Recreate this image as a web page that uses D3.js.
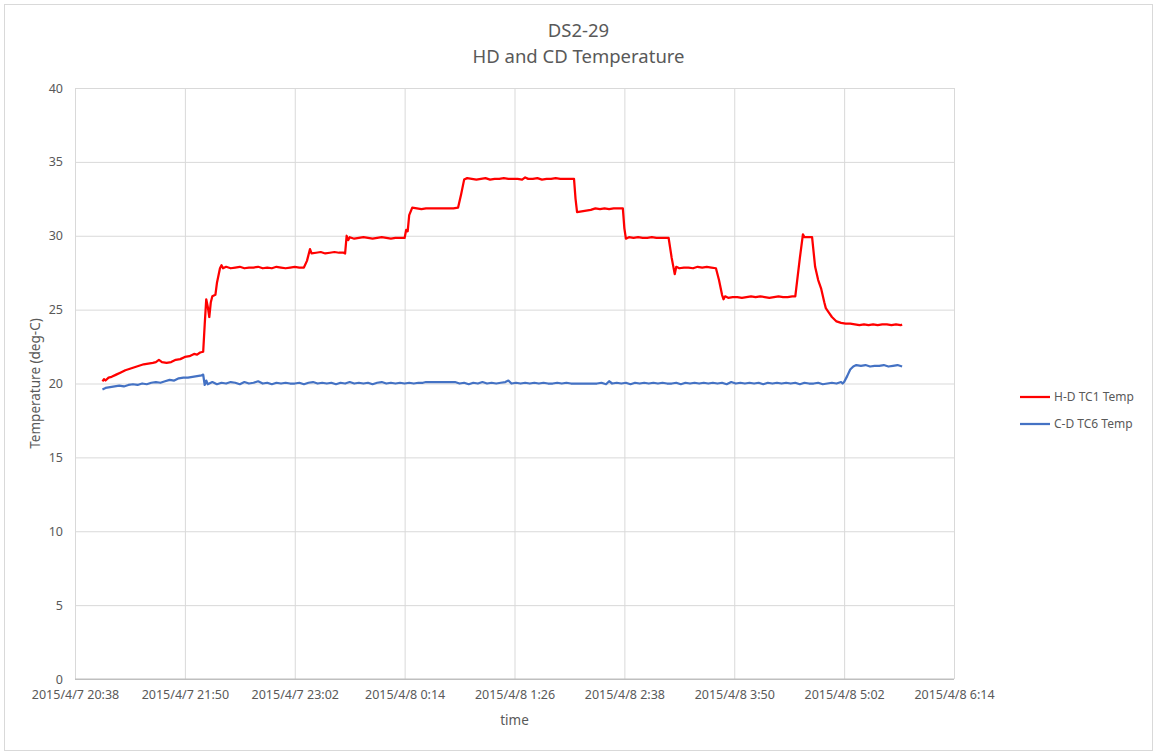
<!DOCTYPE html>
<html>
<head>
<meta charset="utf-8">
<script src="https://cdn.jsdelivr.net/npm/d3@7"></script>
<style>
  body { margin: 0; background: #fff; }
  text { font-family: "Noto Sans", "Liberation Sans", sans-serif; fill: #595959; }
</style>
</head>
<body>
<div id="chart"></div>
<script>
// H-D TC1 readings, [clock time, deg-C]; times >= 20:00 are on 4/7, the rest on 4/8
var hdTemp = [
  ["20:56", 20.15], ["20:57", 20.3], ["20:58", 20.2], ["21:00", 20.4], ["21:02", 20.45],
  ["21:05", 20.6], ["21:08", 20.75], ["21:11", 20.9], ["21:14", 21.0], ["21:17", 21.1],
  ["21:20", 21.2], ["21:23", 21.3], ["21:26", 21.35], ["21:29", 21.4], ["21:31", 21.45],
  ["21:33", 21.6], ["21:35", 21.45], ["21:38", 21.4], ["21:41", 21.45], ["21:44", 21.6],
  ["21:47", 21.65], ["21:50", 21.8], ["21:53", 21.85], ["21:56", 22.0], ["21:58", 21.95],
  ["22:00", 22.1], ["22:02", 22.15], ["22:03", 24.0], ["22:04", 25.7], ["22:05", 25.2],
  ["22:06", 24.5], ["22:07", 25.5], ["22:08", 25.9], ["22:10", 26.0], ["22:11", 26.8],
  ["22:13", 27.8], ["22:14", 28.0], ["22:15", 27.8],
  ["22:17", 27.9], ["22:20", 27.8], ["22:23", 27.85], ["22:26", 27.9], ["22:29", 27.8],
  ["22:32", 27.85], ["22:35", 27.85], ["22:38", 27.9], ["22:41", 27.8], ["22:44", 27.85],
  ["22:47", 27.8], ["22:50", 27.9], ["22:53", 27.85], ["22:56", 27.8], ["22:59", 27.85],
  ["23:02", 27.9], ["23:05", 27.85], ["23:08", 27.85],
  ["23:10", 28.3], ["23:12", 29.1], ["23:13", 28.8], ["23:16", 28.85], ["23:19", 28.9],
  ["23:22", 28.8], ["23:25", 28.85], ["23:28", 28.9], ["23:31", 28.85], ["23:34", 28.85],
  ["23:35", 28.8], ["23:36", 30.0], ["23:37", 29.7],
  ["23:38", 29.9], ["23:41", 29.8], ["23:44", 29.85], ["23:47", 29.9], ["23:50", 29.85],
  ["23:53", 29.8], ["23:56", 29.85], ["23:59", 29.9], ["0:02", 29.85], ["0:05", 29.8],
  ["0:08", 29.85], ["0:11", 29.85], ["0:14", 29.85],
  ["0:15", 30.4], ["0:16", 30.3], ["0:17", 31.4], ["0:19", 31.9], ["0:22", 31.85],
  ["0:25", 31.8], ["0:28", 31.85], ["0:31", 31.85], ["0:34", 31.85], ["0:37", 31.85],
  ["0:40", 31.85], ["0:43", 31.85], ["0:46", 31.85], ["0:49", 31.9],
  ["0:51", 32.8], ["0:53", 33.8], ["0:55", 33.9], ["0:58", 33.85], ["1:01", 33.8],
  ["1:04", 33.85], ["1:07", 33.9], ["1:10", 33.8], ["1:13", 33.85], ["1:16", 33.85],
  ["1:19", 33.9], ["1:22", 33.85], ["1:25", 33.85], ["1:28", 33.85], ["1:31", 33.8],
  ["1:33", 33.95], ["1:35", 33.85], ["1:38", 33.85], ["1:41", 33.9], ["1:44", 33.8],
  ["1:47", 33.85], ["1:50", 33.85], ["1:53", 33.9], ["1:56", 33.85], ["1:59", 33.85],
  ["2:02", 33.85], ["2:05", 33.85],
  ["2:06", 32.5], ["2:07", 31.6], ["2:10", 31.65], ["2:13", 31.7], ["2:16", 31.75],
  ["2:19", 31.85], ["2:22", 31.8], ["2:25", 31.85], ["2:28", 31.8], ["2:31", 31.85],
  ["2:34", 31.85], ["2:37", 31.85],
  ["2:38", 30.5], ["2:39", 29.8], ["2:41", 29.9], ["2:44", 29.85], ["2:47", 29.9],
  ["2:50", 29.85], ["2:53", 29.85], ["2:56", 29.9], ["2:59", 29.85], ["3:02", 29.85],
  ["3:05", 29.85], ["3:07", 29.85],
  ["3:09", 28.5], ["3:11", 27.4], ["3:12", 27.9], ["3:14", 27.8], ["3:17", 27.85],
  ["3:20", 27.85], ["3:23", 27.8], ["3:26", 27.9], ["3:29", 27.85], ["3:32", 27.9],
  ["3:35", 27.85], ["3:38", 27.8],
  ["3:40", 27.0], ["3:42", 26.0], ["3:43", 25.7], ["3:44", 25.9], ["3:46", 25.8],
  ["3:49", 25.85], ["3:52", 25.85], ["3:55", 25.8], ["3:58", 25.85], ["4:01", 25.9],
  ["4:04", 25.85], ["4:07", 25.9], ["4:10", 25.85], ["4:13", 25.8], ["4:16", 25.85],
  ["4:19", 25.9], ["4:22", 25.85], ["4:25", 25.85], ["4:28", 25.9], ["4:30", 25.9],
  ["4:33", 28.5], ["4:35", 30.1], ["4:36", 29.9], ["4:41", 29.9], ["4:43", 27.9],
  ["4:45", 27.0], ["4:47", 26.4], ["4:49", 25.5], ["4:50", 25.1], ["4:52", 24.8],
  ["4:54", 24.5], ["4:57", 24.2], ["5:00", 24.1], ["5:03", 24.05], ["5:06", 24.05],
  ["5:09", 24.0], ["5:12", 23.95], ["5:15", 24.0], ["5:18", 23.95], ["5:21", 24.0],
  ["5:24", 23.95], ["5:27", 24.0], ["5:30", 24.0], ["5:33", 23.95], ["5:36", 24.0],
  ["5:39", 23.95], ["5:40", 24.0]
];

// C-D TC6 readings
var cdTemp = [
  ["20:56", 19.6], ["20:58", 19.7], ["21:01", 19.75], ["21:04", 19.8], ["21:07", 19.85],
  ["21:10", 19.8], ["21:13", 19.9], ["21:16", 19.95], ["21:19", 19.9], ["21:22", 20.0],
  ["21:25", 19.95], ["21:28", 20.05], ["21:31", 20.1], ["21:34", 20.05], ["21:37", 20.15],
  ["21:40", 20.25], ["21:43", 20.2], ["21:46", 20.35], ["21:49", 20.4], ["21:52", 20.4],
  ["21:55", 20.45], ["21:58", 20.5], ["22:01", 20.55], ["22:02", 20.6], ["22:03", 19.9],
  ["22:04", 20.2], ["22:05", 19.95], ["22:06", 20.0], ["22:08", 20.1], ["22:11", 19.95],
  ["22:14", 20.05], ["22:17", 20.0], ["22:20", 20.1], ["22:23", 20.05], ["22:26", 19.95],
  ["22:29", 20.1], ["22:32", 20.0], ["22:35", 20.05], ["22:38", 20.15], ["22:41", 20.0],
  ["22:44", 20.05], ["22:47", 19.95], ["22:50", 20.05], ["22:53", 20.0], ["22:56", 20.05],
  ["22:59", 20.0], ["23:02", 20.0], ["23:05", 20.05], ["23:08", 19.95], ["23:11", 20.05],
  ["23:14", 20.1], ["23:17", 20.0], ["23:20", 20.05], ["23:23", 20.0], ["23:26", 20.05],
  ["23:29", 19.95], ["23:32", 20.05], ["23:35", 20.0], ["23:38", 20.1], ["23:41", 20.0],
  ["23:44", 20.05], ["23:47", 20.0], ["23:50", 20.05], ["23:53", 19.95], ["23:56", 20.05],
  ["23:59", 20.1], ["0:02", 20.0], ["0:05", 20.05], ["0:08", 20.0], ["0:11", 20.05],
  ["0:14", 20.0], ["0:17", 20.05], ["0:20", 20.0], ["0:23", 20.05], ["0:26", 20.05],
  ["0:28", 20.1], ["0:47", 20.1], ["0:50", 20.0], ["0:53", 20.05], ["0:56", 19.95],
  ["0:59", 20.05], ["1:02", 20.0], ["1:05", 20.1], ["1:08", 20.0], ["1:11", 20.05],
  ["1:14", 20.0], ["1:17", 20.05], ["1:20", 20.1], ["1:22", 20.2], ["1:24", 20.0],
  ["1:27", 20.05], ["1:30", 20.0], ["1:33", 20.05], ["1:36", 20.0], ["1:39", 20.05],
  ["1:42", 20.0], ["1:45", 20.05], ["1:48", 20.0], ["1:51", 20.0], ["1:54", 20.05],
  ["1:57", 20.0], ["2:00", 20.05], ["2:03", 20.0], ["2:20", 20.0], ["2:23", 20.05],
  ["2:26", 19.95], ["2:28", 20.15], ["2:30", 20.0], ["2:33", 20.05], ["2:36", 20.0],
  ["2:39", 20.05], ["2:42", 19.95], ["2:45", 20.05], ["2:48", 20.0], ["2:51", 20.05],
  ["2:54", 20.0], ["2:57", 20.05], ["3:00", 20.0], ["3:03", 20.05], ["3:06", 20.0],
  ["3:09", 20.0], ["3:12", 20.05], ["3:15", 19.95], ["3:18", 20.05], ["3:21", 20.0],
  ["3:24", 20.05], ["3:27", 20.0], ["3:30", 20.05], ["3:33", 20.0], ["3:36", 20.05],
  ["3:39", 20.0], ["3:42", 20.05], ["3:45", 19.95], ["3:48", 20.1], ["3:51", 20.0],
  ["3:54", 20.05], ["3:57", 20.0], ["4:00", 20.05], ["4:03", 20.0], ["4:06", 20.05],
  ["4:09", 19.95], ["4:12", 20.05], ["4:15", 20.0], ["4:18", 20.05], ["4:21", 20.0],
  ["4:24", 20.05], ["4:27", 20.0], ["4:30", 20.05], ["4:33", 19.95], ["4:36", 20.05],
  ["4:39", 20.0], ["4:42", 20.0], ["4:45", 20.05], ["4:48", 19.95], ["4:51", 20.0],
  ["4:54", 20.05], ["4:57", 20.0], ["5:00", 20.1], ["5:01", 20.0], ["5:02", 20.1],
  ["5:04", 20.5], ["5:06", 20.95], ["5:08", 21.15], ["5:10", 21.25], ["5:13", 21.2],
  ["5:16", 21.25], ["5:19", 21.15], ["5:22", 21.2], ["5:25", 21.2], ["5:28", 21.25],
  ["5:31", 21.15], ["5:34", 21.2], ["5:37", 21.25], ["5:40", 21.15]
];

var seriesNames = ["H-D TC1 Temp", "C-D TC6 Temp"];
var seriesColors = ["#ff0000", "#4472c4"];

var xTickLabels = ["2015/4/7 20:38", "2015/4/7 21:50", "2015/4/7 23:02", "2015/4/8 0:14",
  "2015/4/8 1:26", "2015/4/8 2:38", "2015/4/8 3:50", "2015/4/8 5:02", "2015/4/8 6:14"];
var yTicks = [0, 5, 10, 15, 20, 25, 30, 35, 40];

const width = 1157;
const height = 756;
const marginTop = 88;
const marginRight = 203;
const marginBottom = 77;
const marginLeft = 75;

var parseFull = d3.timeParse("%Y/%m/%d %H:%M");
function parseClock(s) {
  var h = +s.split(":")[0];
  return parseFull((h >= 12 ? "2015/4/7 " : "2015/4/8 ") + s);
}
var xTickDates = xTickLabels.map(parseFull);

const x = d3.scaleTime()
  .domain([xTickDates[0], xTickDates[xTickDates.length - 1]])
  .range([marginLeft, width - marginRight]);

const y = d3.scaleLinear()
  .domain([0, 40])
  .range([height - marginBottom, marginTop]);

const svg = d3.select("#chart").append("svg")
  .attr("width", width)
  .attr("height", height)
  .attr("viewBox", [0, 0, width, height]);

// outer chart border
svg.append("rect")
  .attr("x", 4.5).attr("y", 4.5)
  .attr("width", 1148).attr("height", 746)
  .attr("fill", "#fff")
  .attr("stroke", "#d9d9d9");

// horizontal gridlines + y labels
svg.append("g")
  .attr("transform", `translate(${marginLeft},0)`)
  .call(d3.axisLeft(y).tickValues(yTicks).tickSize(-(width - marginLeft - marginRight)).tickPadding(12))
  .call(g => g.select(".domain").remove())
  .call(g => g.selectAll(".tick line").attr("stroke", (d) => d === 0 ? "#bfbfbf" : "#d9d9d9"))
  .call(g => g.selectAll(".tick text").attr("font-size", 12.5).attr("fill", "#595959")
    .style("font-family", "'Noto Sans', sans-serif"));

// vertical gridlines + time labels
svg.append("g")
  .attr("transform", `translate(0,${height - marginBottom})`)
  .call(d3.axisBottom(x).tickValues(xTickDates)
    .tickSize(-(height - marginTop - marginBottom))
    .tickFormat((d, i) => xTickLabels[i])
    .tickPadding(11))
  .call(g => g.select(".domain").remove())
  .call(g => g.selectAll(".tick line").attr("stroke", "#d9d9d9"))
  .call(g => g.selectAll(".tick text").attr("font-size", 12.5).attr("fill", "#595959")
    .style("font-family", "'Noto Sans', sans-serif"));

// x axis line at 0
svg.append("line")
  .attr("x1", marginLeft).attr("x2", width - marginRight)
  .attr("y1", y(0)).attr("y2", y(0))
  .attr("stroke", "#bfbfbf");

const line = d3.line()
  .x(d => x(parseClock(d[0])))
  .y(d => y(d[1]));

[hdTemp, cdTemp].forEach(function (data, i) {
  svg.append("path")
    .datum(data)
    .attr("fill", "none")
    .attr("stroke", seriesColors[i])
    .attr("stroke-width", 2.25)
    .attr("stroke-linejoin", "round")
    .attr("d", line);
});

// titles
svg.append("text")
  .attr("x", width / 2).attr("y", 37)
  .attr("text-anchor", "middle")
  .attr("font-size", 18.5)
  .text("DS2-29");
svg.append("text")
  .attr("x", width / 2).attr("y", 63)
  .attr("text-anchor", "middle")
  .attr("font-size", 18.5)
  .text("HD and CD Temperature");

svg.append("text")
  .attr("x", (marginLeft + width - marginRight) / 2)
  .attr("y", 725)
  .attr("text-anchor", "middle")
  .attr("font-size", 13.5)
  .text("time");

svg.append("text")
  .attr("transform", `translate(40,${(marginTop + height - marginBottom) / 2}) rotate(-90)`)
  .attr("text-anchor", "middle")
  .attr("font-size", 13.5)
  .text("Temperature (deg-C)");

// legend
const legend = svg.append("g")
  .selectAll("g")
  .data(seriesNames)
  .join("g")
  .attr("transform", (d, i) => `translate(1020,${397 + i * 27})`);
legend.append("line")
  .attr("x1", 0).attr("x2", 30)
  .attr("stroke", (d, i) => seriesColors[i])
  .attr("stroke-width", 2.25);
legend.append("text")
  .attr("x", 34).attr("dy", "0.35em")
  .attr("font-size", 12)
  .text(d => d);
</script>
</body>
</html>
